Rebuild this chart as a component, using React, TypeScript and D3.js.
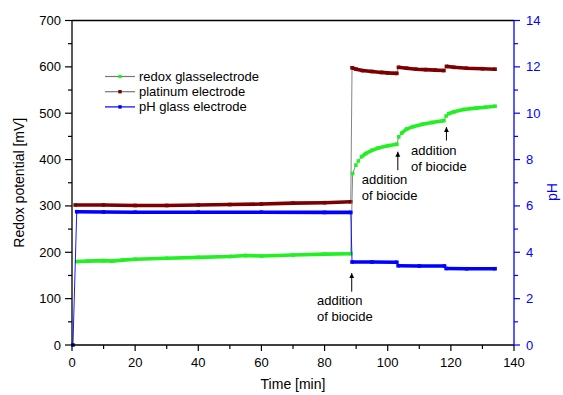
import React from "react";
import * as d3 from "d3";

// redox glasselectrode (mV), segments split where the band breaks
const redoxTime = [1.5, 5, 10, 12.6, 16, 20, 30, 40, 50, 55, 60, 70, 80, 88.3, 88.9, 89.9, 90.7, 91.7, 93, 95, 97, 100, 102.9, 103.5, 104.4, 106, 108, 111, 114, 117.8, 118.5, 119.3, 121, 124, 128, 131, 134];
const redoxMv = [180, 181, 182, 181, 183, 185, 187, 189, 191, 193, 192, 194, 196, 197, 370, 388, 397, 406, 413, 420, 425, 430, 433, 449, 457, 466, 471, 476, 480, 484, 494, 499, 503, 508, 511, 513, 515];
const redoxSeg = [0, 0, 0, 0, 0, 0, 0, 0, 0, 0, 0, 0, 0, 0, 1, 2, 3, 4, 4, 4, 4, 4, 4, 5, 6, 6, 6, 6, 6, 6, 7, 8, 8, 8, 8, 8, 8];

// platinum electrode (mV)
const platinumTime = [1, 10, 20, 30, 40, 50, 60, 70, 80, 88.3, 88.7, 90, 92, 95, 98, 100, 102.9, 103.4, 106, 109, 112, 115, 117.8, 118.6, 121, 125, 130, 134];
const platinumMv = [302, 302, 301, 301, 302, 303, 304, 306, 307, 309, 598, 595, 592, 590, 588, 587, 586, 599, 597, 595, 594, 593, 592, 601, 599, 597, 596, 595];
const platinumSeg = [0, 0, 0, 0, 0, 0, 0, 0, 0, 0, 1, 1, 1, 1, 1, 1, 1, 2, 2, 2, 2, 2, 2, 3, 3, 3, 3, 3];

// pH glass electrode
const phTime = [0.3, 1.5, 10, 20, 40, 60, 80, 88.3, 88.7, 95, 102.9, 103.3, 110, 118, 118.5, 125, 134];
const phValue = [0, 5.75, 5.74, 5.73, 5.73, 5.73, 5.72, 5.72, 3.58, 3.58, 3.57, 3.42, 3.41, 3.41, 3.3, 3.29, 3.29];
const phSeg = [0, 1, 1, 1, 1, 1, 1, 1, 2, 2, 2, 3, 3, 3, 4, 4, 4];

// "addition of biocide" arrows
const annTime = [88.6, 103.2, 118.6];
const annTipMv = [155, 417, 470];
const annTailMv = [115, 377, 441];
const annTextTime = [77.6, 91.8, 107.4];
const annTextMv = [86, 348, 410];

const legendLabels = ["redox glasselectrode", "platinum electrode", "pH glass electrode"];

const W = 563;
const H = 395;
const m = { left: 72, right: 49, top: 20.5, bottom: 50 };
const FONT = "'Liberation Sans', Arial, sans-serif";
const GREEN = "#22f022";
const WINE = "#7d0000";
const BLUE = "#0000ff";
const CONNECT = "#777";

const x = d3.scaleLinear().domain([0, 140]).range([m.left, W - m.right]);
const y = d3.scaleLinear().domain([0, 700]).range([H - m.bottom, m.top]);
const yPh = d3.scaleLinear().domain([0, 14]).range([H - m.bottom, m.top]);

type Pt = { t: number; v: number; s: number };

const makePts = (t: number[], v: number[], s: number[]): Pt[] => t.map((tt, i) => ({ t: tt, v: v[i], s: s[i] }));

const Series: React.FC<{ pts: Pt[]; ys: d3.ScaleLinear<number, number>; color: string; connect: string }> = ({ pts, ys, color, connect }) => {
  const line = d3
    .line<Pt>()
    .x((d) => x(d.t))
    .y((d) => ys(d.v));
  const groups = d3.groups(pts, (d) => d.s);
  return (
    <g>
      <path d={line(pts) ?? ""} fill="none" stroke={connect} strokeWidth={0.9} />
      {groups.map(([k, g]) =>
        g.length > 1 ? <path key={k} d={line(g) ?? ""} fill="none" stroke={color} strokeWidth={3.6} /> : null
      )}
      {pts.map((d, i) => (
        <rect key={i} x={x(d.t) - 1.8} y={ys(d.v) - 1.8} width={3.6} height={3.6} fill={color} />
      ))}
    </g>
  );
};

export default function App() {
  const x0 = m.left;
  const x1 = W - m.right;
  const y0 = H - m.bottom;
  const y1 = m.top;

  const redox = makePts(redoxTime, redoxMv, redoxSeg);
  const platinum = makePts(platinumTime, platinumMv, platinumSeg);
  const ph = makePts(phTime, phValue, phSeg);

  const legendColors = [GREEN, WINE, BLUE];
  const legendLines = [CONNECT, CONNECT, BLUE];

  return (
    <svg width={W} height={H} style={{ position: "absolute", left: 0, top: 0, background: "#fff" }} fontFamily={FONT}>
      <defs>
        <marker id="ah" viewBox="0 0 10 10" refX="10" refY="5" markerWidth="5" markerHeight="7" markerUnits="userSpaceOnUse" orient="auto">
          <path d="M0,0 L10,5 L0,10 z" fill="#000" />
        </marker>
      </defs>

      {/* series */}
      <Series pts={platinum} ys={y} color={WINE} connect={CONNECT} />
      <Series pts={redox} ys={y} color={GREEN} connect={CONNECT} />
      <Series pts={ph} ys={yPh} color={BLUE} connect={BLUE} />

      {/* frame */}
      <line x1={x0} x2={x1} y1={y1} y2={y1} stroke="#000" strokeWidth={1.3} />
      <line x1={x0} x2={x1} y1={y0} y2={y0} stroke="#000" strokeWidth={1.3} />
      <line x1={x0} x2={x0} y1={y1} y2={y0} stroke="#000" strokeWidth={1.3} />
      <line x1={x1} x2={x1} y1={y1} y2={y0} stroke={BLUE} strokeWidth={1.3} />

      {/* left axis */}
      {y.ticks(7).map((t) => (
        <g key={t}>
          <line x1={x0 - 7} x2={x0} y1={y(t)} y2={y(t)} stroke="#000" strokeWidth={1.2} />
          <text x={x0 - 11} y={y(t) + 4.5} fontSize={13} textAnchor="end">{t}</text>
        </g>
      ))}
      {d3.range(50, 700, 100).map((t) => (
        <line key={t} x1={x0 - 4} x2={x0} y1={y(t)} y2={y(t)} stroke="#000" strokeWidth={1.2} />
      ))}

      {/* bottom axis */}
      {x.ticks(7).map((t) => (
        <g key={t}>
          <line x1={x(t)} x2={x(t)} y1={y0} y2={y0 + 6} stroke="#000" strokeWidth={1.2} />
          <text x={x(t)} y={y0 + 22} fontSize={13} textAnchor="middle">{t}</text>
        </g>
      ))}
      {d3.range(10, 140, 20).map((t) => (
        <line key={t} x1={x(t)} x2={x(t)} y1={y0} y2={y0 + 4} stroke="#000" strokeWidth={1.2} />
      ))}

      {/* right axis */}
      {yPh.ticks(7).map((t) => (
        <g key={t}>
          <line x1={x1} x2={x1 + 6} y1={yPh(t)} y2={yPh(t)} stroke={BLUE} strokeWidth={1.2} />
          <text x={x1 + 12} y={yPh(t) + 4.5} fontSize={13} fill={BLUE}>{t}</text>
        </g>
      ))}
      {d3.range(1, 14, 2).map((t) => (
        <line key={t} x1={x1} x2={x1 + 4} y1={yPh(t)} y2={yPh(t)} stroke={BLUE} strokeWidth={1.2} />
      ))}

      {/* axis titles */}
      <text transform={`translate(24,${(y0 + y1) / 2}) rotate(-90)`} fontSize={14} textAnchor="middle">Redox potential [mV]</text>
      <text x={(x0 + x1) / 2} y={H - 6} fontSize={14} textAnchor="middle">Time [min]</text>
      <text transform={`translate(557,192) rotate(-90)`} fontSize={14} textAnchor="middle" fill={BLUE}>pH</text>

      {/* legend */}
      {legendLabels.map((lab, i) => (
        <g key={lab} transform={`translate(105,${76.5 + i * 15.2})`}>
          <line x1={0} x2={30} y1={0} y2={0} stroke={legendLines[i]} strokeWidth={1.2} />
          <rect x={13.3} y={-1.7} width={3.4} height={3.4} fill={legendColors[i]} />
          <text x={34} y={4.5} fontSize={13}>{lab}</text>
        </g>
      ))}

      {/* annotations */}
      {annTime.map((t, i) => (
        <g key={i}>
          <line x1={x(t)} x2={x(t)} y1={y(annTailMv[i])} y2={y(annTipMv[i])} stroke="#000" strokeWidth={1} markerEnd="url(#ah)" />
          <text x={x(annTextTime[i])} y={y(annTextMv[i])} fontSize={13}>addition</text>
          <text x={x(annTextTime[i])} y={y(annTextMv[i]) + 16} fontSize={13}>of biocide</text>
        </g>
      ))}
    </svg>
  );
}
